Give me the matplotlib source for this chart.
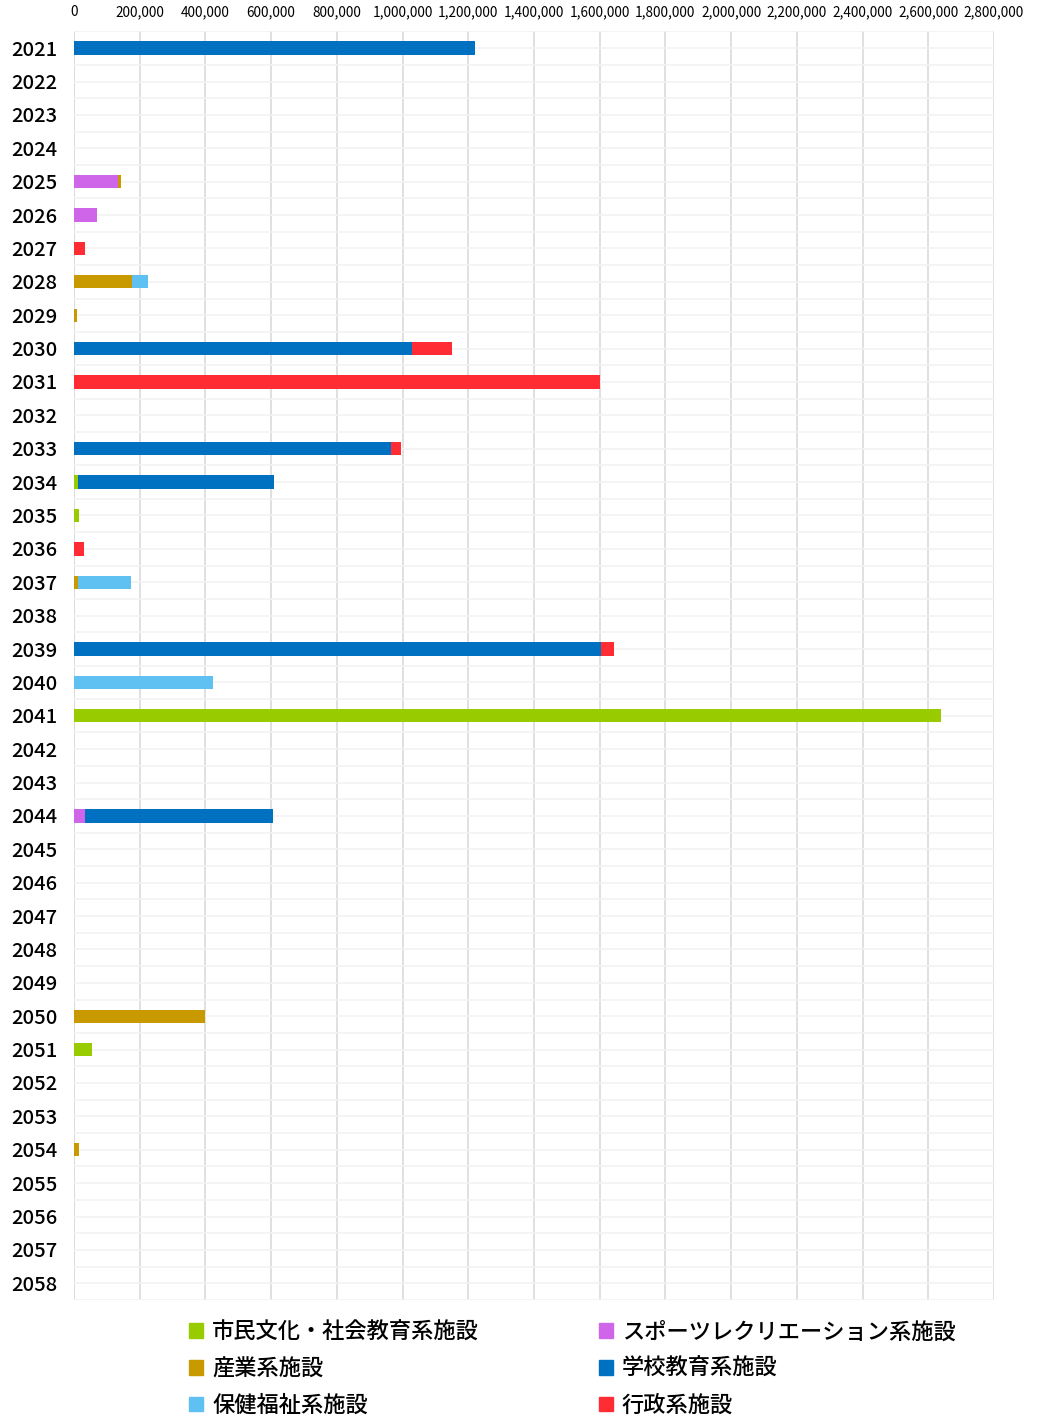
import numpy as np
import matplotlib
matplotlib.use("Agg")
import matplotlib.pyplot as plt
import matplotlib.patches as mpatches
from matplotlib.ticker import FuncFormatter, MultipleLocator

plt.rcParams['font.family'] = ['Noto Sans CJK JP', 'DejaVu Sans']

years = list(range(2021, 2059))

# series, in stacking order
names = ['市民文化・社会教育系施設', 'スポーツレクリエーション系施設', '産業系施設',
         '学校教育系施設', '保健福祉系施設', '行政系施設']
colors = ['#99cc00', '#cf66ea', '#c99a00', '#0070c0', '#5ec1f2', '#ff2d33']

shimin = {2034: 12000, 2035: 14000, 2041: 2640000, 2051: 56000}
sports = {2025: 134000, 2026: 70000, 2044: 34000}
sangyo = {2025: 9000, 2028: 176000, 2029: 9000, 2037: 11000, 2050: 400000, 2054: 15000}
gakko = {2021: 1220000, 2030: 1030000, 2033: 965000, 2034: 597000, 2039: 1604000, 2044: 571000}
hoken = {2028: 49000, 2037: 163000, 2040: 422000}
gyosei = {2027: 33000, 2030: 121000, 2031: 1600000, 2033: 31000, 2036: 30000, 2039: 40000}

series = [shimin, sports, sangyo, gakko, hoken, gyosei]

fig = plt.figure(figsize=(10.37, 14.17), dpi=100)
ax = fig.add_axes([0.0714, 0.0826, 0.8871, 0.8952])

y = np.arange(len(years))
left = np.zeros(len(years))
for s, c, n in zip(series, colors, names):
    vals = np.array([s.get(yr, 0) for yr in years], dtype=float)
    ax.barh(y, vals, left=left, height=0.4, color=c, label=n, zorder=3)
    left += vals

ax.set_xlim(0, 2800000)
ax.set_ylim(len(years) - 0.5, -0.5)
ax.xaxis.set_major_locator(MultipleLocator(200000))
ax.xaxis.set_major_formatter(FuncFormatter(lambda v, p: f'{int(v):,}'))
ax.xaxis.tick_top()
ax.tick_params(axis='x', length=0, pad=9, labelsize=9.8)
ax.set_yticks(y)
ax.set_yticklabels([str(yr) for yr in years], fontweight='medium')
ax.tick_params(axis='y', length=0, pad=12, labelsize=14.5)
ax.set_yticks(np.arange(len(years) + 1) - 0.5, minor=True)
ax.tick_params(axis='y', which='minor', length=0)

ax.grid(axis='x', color='#dadada', linewidth=1.2, zorder=0)
ax.grid(axis='y', which='major', color='#f2f2f2', linewidth=1.2, zorder=0)
ax.grid(axis='y', which='minor', color='#f2f2f2', linewidth=1.2, zorder=0)
for sp in ax.spines.values():
    sp.set_visible(False)
ax.axvline(0, color='#dadada', linewidth=1.2, zorder=1)

handles = [mpatches.Patch(color=c) for c in colors]
order = [0, 2, 4, 1, 3, 5]
fig.legend([handles[i] for i in order], [names[i] for i in order],
           ncol=2, loc='upper left', bbox_to_anchor=(0.172, 0.076),
           frameon=False, prop={'size': 16, 'weight': 'medium'},
           handlelength=0.62, handleheight=0.62,
           handletextpad=0.4, columnspacing=5.4, labelspacing=0.62,
           borderpad=0)

fig.savefig('out.png', dpi=100)
